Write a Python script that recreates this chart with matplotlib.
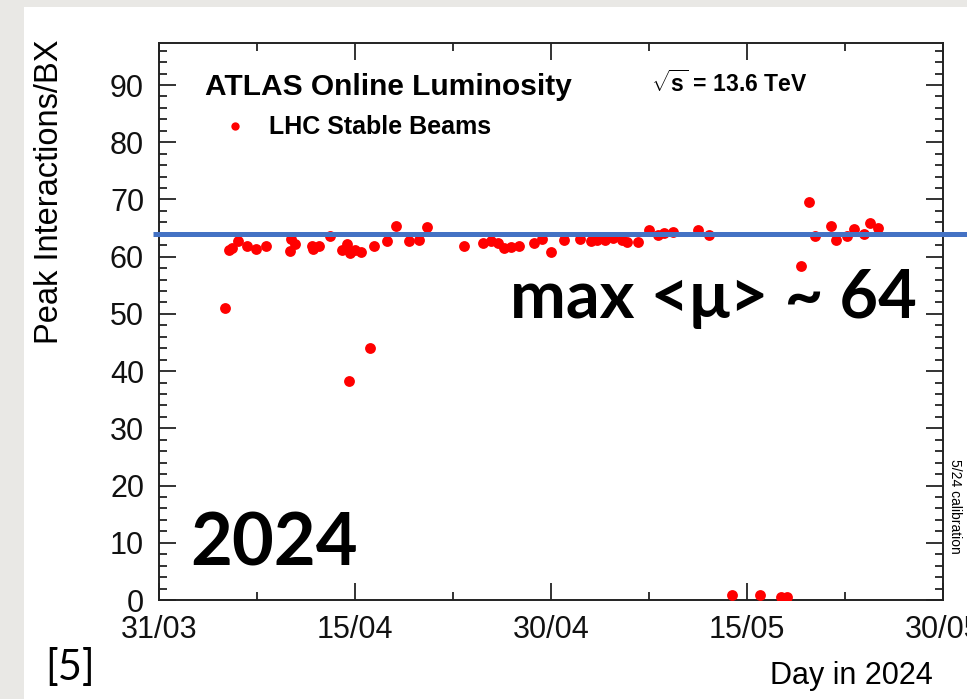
import numpy as np
import matplotlib.pyplot as plt
from matplotlib.patches import Rectangle
from matplotlib.ticker import MultipleLocator

# days counted from 31/03/2024, peak pile-up per fill
days = [5.0, 5.3, 5.6, 6.0, 6.7, 7.4, 8.2, 10.0, 10.1, 10.4, 11.7, 11.8, 12.2,
        13.1, 14.0, 14.4, 14.5, 14.6, 15.0, 15.4, 16.1, 16.4, 17.4, 18.1, 19.1,
        19.9, 20.5, 23.3, 24.8, 25.4, 25.9, 26.4, 26.9, 27.5, 28.7, 29.3, 30.0,
        31.0, 32.2, 33.0, 33.5, 34.1, 34.7, 35.4, 35.8, 36.6, 37.5, 38.2, 38.6,
        39.3, 41.2, 42.1, 43.8, 46.0, 47.6, 48.0, 49.1, 49.7, 50.2, 51.4, 51.8,
        52.6, 53.2, 53.9, 54.4, 55.0]
peak_mu = [51.1, 61.2, 61.5, 62.8, 61.9, 61.4, 61.8, 61.0, 63.1, 62.2, 61.9, 61.4, 61.9,
           63.6, 61.1, 62.2, 38.3, 60.6, 61.1, 60.9, 44.1, 61.9, 62.8, 65.4, 62.8,
           62.9, 65.2, 61.9, 62.4, 62.8, 62.4, 61.6, 61.7, 61.8, 62.4, 63.1, 60.8,
           62.9, 63.1, 62.8, 62.9, 62.9, 63.2, 62.9, 62.5, 62.6, 64.6, 63.8, 64.1,
           64.4, 64.7, 63.8, 0.8, 0.8, 0.6, 0.6, 58.4, 69.5, 63.6, 65.4, 62.9,
           63.6, 64.8, 64.0, 65.9, 65.1]

tick_days = [0, 15, 30, 45, 60]
tick_labels = ['31/03', '15/04', '30/04', '15/05', '30/05']
max_mu = 64

plt.rcParams['font.family'] = ['Liberation Sans', 'DejaVu Sans']
plt.rcParams['mathtext.fontset'] = 'custom'
plt.rcParams['mathtext.rm'] = 'Liberation Sans:bold'
plt.rcParams['mathtext.it'] = 'Liberation Sans:bold'

W, H = 967, 699
fig = plt.figure(figsize=(W / 100, H / 100), dpi=100, facecolor='#e9e8e5')
# white slide area behind everything
fig.patches.append(Rectangle((24 / W, 0), 1 - 24 / W, 1 - 7 / H,
                             transform=fig.transFigure, facecolor='white',
                             edgecolor='none', zorder=-5))

ax = fig.add_axes([159.3 / W, 1 - 600 / H, (943.3 - 159.3) / W, (600 - 42.7) / H])
ax.set_facecolor('white')
ax.set_xlim(0, 60)
ax.set_ylim(0, 97.4)

ax.plot(days, peak_mu, 'o', color='red', markersize=7.8, markeredgewidth=0, zorder=3)

# max <mu> reference line, running past the frame to the slide edge
ax.plot([-0.48, 62], [max_mu, max_mu], color='#4472C4', linewidth=3.6,
        clip_on=False, zorder=4, solid_capstyle='butt')

ax.set_xticks(tick_days)
ax.set_xticklabels(tick_labels)
ax.xaxis.set_minor_locator(MultipleLocator(7.5))
ax.set_yticks(np.arange(0, 100, 10))
ax.yaxis.set_minor_locator(MultipleLocator(2))
ax.tick_params(which='both', direction='in', top=True, right=True, labelsize=22,
               width=1.2, colors='#111111')
ax.tick_params(which='major', length=12)
ax.tick_params(which='minor', length=5.5)
ax.tick_params(axis='y', pad=11)
ax.tick_params(axis='x', pad=11)
for s in ax.spines.values():
    s.set_linewidth(1.4)
    s.set_color('#222222')

fig.text(50 / W, 1 - 40 / H, 'Peak Interactions/BX', rotation=90, ha='center',
         va='top', fontsize=23.5)
fig.text(933 / W, 1 - 676 / H, 'Day in 2024', ha='right', va='center', fontsize=22)
fig.text(955 / W, 1 - 506 / H, '5/24 calibration', rotation=-90, ha='center',
         va='center', fontsize=10)

fig.text(205 / W, 1 - 95 / H, 'ATLAS Online Luminosity', fontsize=21.5,
         fontweight='bold', va='baseline')
fig.text(651 / W, 1 - 92 / H, r'$\sqrt{s}$ = 13.6 TeV', fontsize=16.5,
         fontweight='bold', va='baseline')
ax.plot([76 / 784 * 60], [(600 - 126) / 5.72], 'o', color='red', markersize=6,
        markeredgewidth=0, clip_on=False)
fig.text(269 / W, 1 - 134 / H, 'LHC Stable Beams', fontsize=18,
         fontweight='bold', va='baseline')

big = ['Lato', 'Open Sans', 'DejaVu Sans']
fig.text(510 / W, 1 - 318 / H, 'max <\u03bc> ~ 64', family=big, fontweight='bold',
         fontsize=48, va='baseline')
fig.text(190 / W, 1 - 565 / H, '2024', family=big, fontweight='bold',
         fontsize=52, va='baseline')
fig.text(45 / W, 1 - 680 / H, '[5]', family=big, fontsize=30, va='baseline')

fig.savefig('out.png', dpi=100, facecolor=fig.get_facecolor())
